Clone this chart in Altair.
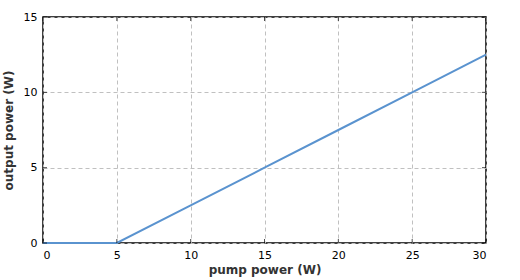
import altair as alt
import pandas as pd

pump_power = [0, 5, 10, 15, 20, 25, 30]
output_power = [0, 0, 2.5, 5, 7.5, 10, 12.5]
x_ticks = [0, 5, 10, 15, 20, 25, 30]
y_ticks = [0, 5, 10, 15]

W, H = 443, 226
FONT = "DejaVu Sans"

df = pd.DataFrame({"p": pump_power, "o": output_power})
xt = pd.DataFrame({"v": x_ticks})
yt = pd.DataFrame({"v": y_ticks})

xscale = alt.Scale(domain=[0, 30], nice=False)
yscale = alt.Scale(domain=[0, 15], nice=False)

line = alt.Chart(df).mark_line(color="#5a93cf", strokeWidth=2).encode(
    x=alt.X("p:Q", scale=xscale,
            axis=alt.Axis(values=x_ticks, title="pump power (W)", grid=True,
                          gridDash=[4, 3], gridColor="#c0c0c0", ticks=False,
                          labelPadding=6, titlePadding=4)),
    y=alt.Y("o:Q", scale=yscale,
            axis=alt.Axis(values=y_ticks, title="output power (W)", grid=True,
                          gridDash=[4, 3], gridColor="#c0c0c0", ticks=False,
                          labelPadding=6, titlePadding=8)),
)

bt = alt.Chart(xt).mark_tick(color="black", size=4, thickness=1, yOffset=-2).encode(
    x=alt.X("v:Q", scale=xscale), y=alt.value(H))
tt = alt.Chart(xt).mark_tick(color="black", size=4, thickness=1, yOffset=2).encode(
    x=alt.X("v:Q", scale=xscale), y=alt.value(0))
lt = alt.Chart(yt).mark_tick(color="black", size=4, thickness=1, xOffset=2, orient="horizontal").encode(
    y=alt.Y("v:Q", scale=yscale), x=alt.value(0))
rt = alt.Chart(yt).mark_tick(color="black", size=4, thickness=1, xOffset=-2, orient="horizontal").encode(
    y=alt.Y("v:Q", scale=yscale), x=alt.value(W))

chart = alt.layer(line, bt, tt, lt, rt).properties(
    width=W, height=H, padding={"left": 43, "top": 17, "right": 34, "bottom": 37},
    autosize="none",
).configure_view(stroke="black", strokeWidth=1.5).configure_axis(
    labelFont=FONT, labelFontSize=11, labelColor="black",
    titleFont=FONT, titleFontSize=12, titleFontWeight="bold", titleColor="#333333",
    domain=False,
)

chart.save("out.html", embed_options={"renderer": "svg", "actions": False})
